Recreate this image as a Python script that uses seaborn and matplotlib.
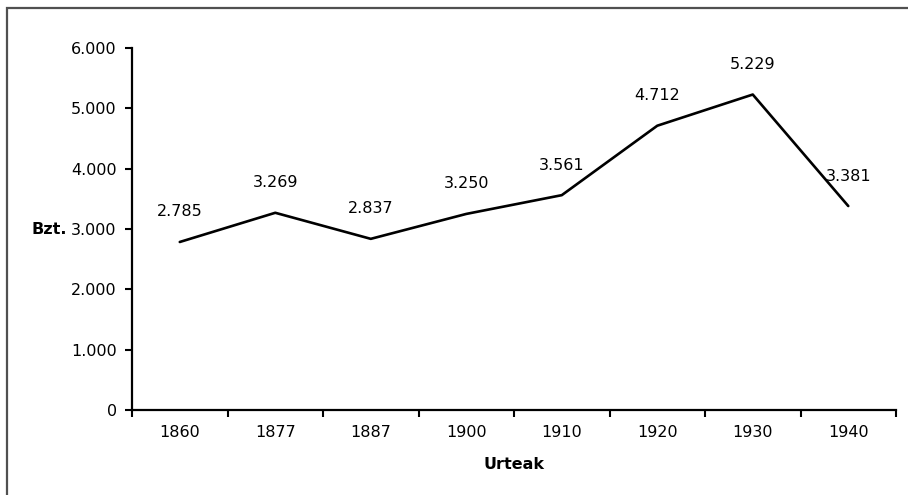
import matplotlib
matplotlib.use("Agg")
import matplotlib.pyplot as plt
import matplotlib.patches as patches
import seaborn as sns
import pandas as pd
import numpy as np

# data
years = ["1860", "1877", "1887", "1900", "1910", "1920", "1930", "1940"]
values = [2785, 3269, 2837, 3250, 3561, 4712, 5229, 3381]
y_ticks = [0, 1000, 2000, 3000, 4000, 5000, 6000]

sns.set_style("white")
plt.rcParams["font.family"] = ["DejaVu Sans"]
plt.rcParams["text.color"] = "black"
plt.rcParams["axes.labelcolor"] = "black"
plt.rcParams["xtick.color"] = "black"
plt.rcParams["ytick.color"] = "black"

def fmt(v):
    return f"{v:,}".replace(",", ".")

df = pd.DataFrame({"urtea": years, "bzt": values})
df["pos"] = np.arange(len(years))

fig = plt.figure(figsize=(9.08, 4.95), dpi=100)
ax = fig.add_axes([0.1454, 0.1717, 0.8414, 0.7313])

sns.lineplot(data=df, x="pos", y="bzt", ax=ax, color="black", linewidth=1.9)

for x, v in zip(df["pos"], df["bzt"]):
    ax.annotate(fmt(v), (x, v), xytext=(0, 30), textcoords="offset pixels",
                ha="center", va="center", fontsize=11.5, color="black")

ax.set_xlim(-0.5, len(years) - 0.5)
ax.set_ylim(0, 6000)
ax.set_yticks(y_ticks)
ax.set_yticklabels([fmt(t) for t in y_ticks], fontsize=11.5)

ax.set_xticks(np.arange(-0.5, len(years), 1.0))
ax.set_xticklabels([])
ax.set_xticks(np.arange(len(years)), minor=True)
ax.set_xticklabels(years, minor=True, fontsize=11.5)
ax.tick_params(axis="x", which="minor", bottom=True, length=0, pad=11)
ax.tick_params(axis="x", which="major", bottom=True, length=5, width=1.5, direction="out", color="black")
ax.tick_params(axis="y", left=True, length=5, width=1.5, direction="out", color="black", pad=6)

for s in ["top", "right"]:
    ax.spines[s].set_visible(False)
for s in ["left", "bottom"]:
    ax.spines[s].set_color("black")
    ax.spines[s].set_linewidth(1.6)

ax.set_xlabel("Urteak", fontsize=11.5, fontweight="bold", labelpad=12)
ax.set_ylabel("Bzt.", fontsize=11.5, fontweight="bold", rotation=0, ha="center", va="center")
ax.yaxis.set_label_coords(-0.108, 0.5)

# outer frame
rect = patches.Rectangle((7 / 908, -0.05), 1.2, 1 - 7 / 495 + 0.05 - 1 / 495,
                         transform=fig.transFigure, fill=False,
                         edgecolor="#505050", linewidth=1.6, clip_on=False)
fig.patches.append(rect)

fig.savefig("out.png", dpi=100)
